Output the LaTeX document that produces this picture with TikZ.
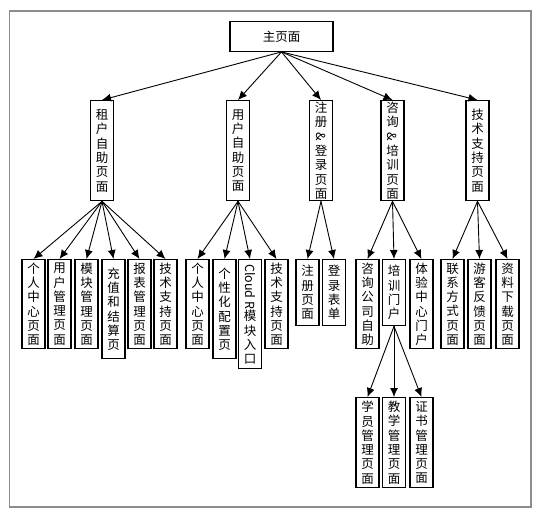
\documentclass[tikz,border=0pt]{standalone}
\usepackage{fontspec}
\setmainfont{Noto Sans CJK SC}
\usepackage{graphicx}
\usetikzlibrary{arrows.meta}
\colorlet{colMarco}{black!45}
\colorlet{colLinea}{black}
\tikzset{
  cajaBase/.style={
    draw=colLinea, line width=1.3pt, inner sep=0pt,
    align=center, font=\fontsize{12.5pt}{14.3pt}\selectfont,
    fill=white
  },
  cajaPrincipal/.style={cajaBase, minimum width=103pt, minimum height=29.5pt},
  cajaVertical/.style={cajaBase, anchor=north, minimum width=23pt},
  cajaSeccion/.style={cajaVertical, minimum height=100pt},
  flecha/.style={-{Latex[length=9pt,width=8pt]}, line width=0.9pt, colLinea},
}
\newcommand{\girado}[1]{\rotatebox[origin=c]{-90}{#1}}

\begin{document}
\begin{tikzpicture}[x=1pt, y=-1pt]
    \useasboundingbox (0,0) rectangle (543,517);
    \draw[colMarco, line width=1.2pt] (9.5,11) rectangle (531,507);
    % nivel 1
    \node[cajaPrincipal] (raiz) at (281.5,36.5) {主页面};
    % nivel 2
    \node[cajaSeccion] (zuhu) at (102,100) {租\\户\\自\\助\\页\\面};
    \node[cajaSeccion] (yonghu) at (238,100) {用\\户\\自\\助\\页\\面};
    \node[cajaSeccion] (zhuce) at (321,100) {注\\册\\\girado{\&}\\登\\录\\页\\面};
    \node[cajaSeccion] (zixun) at (392.5,100) {咨\\询\\\girado{\&}\\培\\训\\页\\面};
    \node[cajaSeccion] (jishu) at (477.5,100) {技\\术\\支\\持\\页\\面};
    % nivel 3
    \node[cajaVertical, minimum height=89pt] (a1) at (33.5,259) {个\\人\\中\\心\\页\\面};
    \node[cajaVertical, minimum height=89pt] (a2) at (59.5,259) {用\\户\\管\\理\\页\\面};
    \node[cajaVertical, minimum height=89pt] (a3) at (86.5,259) {模\\块\\管\\理\\页\\面};
    \node[cajaVertical, minimum height=99pt] (a4) at (113.5,259) {充\\值\\和\\结\\算\\页};
    \node[cajaVertical, minimum height=89pt] (a5) at (139.5,259) {报\\表\\管\\理\\页\\面};
    \node[cajaVertical, minimum height=89pt] (a6) at (165.5,259) {技\\术\\支\\持\\页\\面};
    \node[cajaVertical, minimum height=89pt] (b1) at (197.5,259) {个\\人\\中\\心\\页\\面};
    \node[cajaVertical, minimum height=99pt] (b2) at (224.5,259) {个\\性\\化\\配\\置\\页};
    \node[cajaVertical, minimum height=109pt] (b3) at (250,259) {\girado{Cloud R}\\模\\块\\入\\口};
    \node[cajaVertical, minimum height=89pt] (b4) at (276.5,259) {技\\术\\支\\持\\页\\面};
    \node[cajaVertical, minimum height=66pt] (c1) at (307.5,259) {注\\册\\页\\面};
    \node[cajaVertical, minimum height=66pt] (c2) at (334,259) {登\\录\\表\\单};
    \node[cajaVertical, minimum height=89pt] (d1) at (367.5,259) {咨\\询\\公\\司\\自\\助};
    \node[cajaVertical, minimum height=66pt] (d2) at (394,259) {培\\训\\门\\户};
    \node[cajaVertical, minimum height=89pt] (d3) at (421.5,259) {体\\验\\中\\心\\门\\户};
    \node[cajaVertical, minimum height=89pt] (e1) at (452.5,259) {联\\系\\方\\式\\页\\面};
    \node[cajaVertical, minimum height=89pt] (e2) at (479.5,259) {游\\客\\反\\馈\\页\\面};
    \node[cajaVertical, minimum height=89pt] (e3) at (507.5,259) {资\\料\\下\\载\\页\\面};
    % nivel 4
    \node[cajaVertical, minimum height=90pt] (f1) at (367.5,397) {学\\员\\管\\理\\页\\面};
    \node[cajaVertical, minimum height=90pt] (f2) at (394,397) {教\\学\\管\\理\\页\\面};
    \node[cajaVertical, minimum height=90pt] (f3) at (421.5,397) {证\\书\\管\\理\\页\\面};
    % flechas
    \foreach \hijo in {zuhu, yonghu, zhuce, zixun, jishu}
      \draw[flecha] (raiz.south) -- (\hijo.north);
    \foreach \hijo in {a1, a2, a3, a4, a5, a6}
      \draw[flecha] (zuhu.south) -- (\hijo.north);
    \foreach \hijo in {b1, b2, b3, b4}
      \draw[flecha] (yonghu.south) -- (\hijo.north);
    \foreach \hijo in {c1, c2}
      \draw[flecha] (zhuce.south) -- (\hijo.north);
    \foreach \hijo in {d1, d2, d3}
      \draw[flecha] (zixun.south) -- (\hijo.north);
    \foreach \hijo in {e1, e2, e3}
      \draw[flecha] (jishu.south) -- (\hijo.north);
    \foreach \hijo in {f1, f2, f3}
      \draw[flecha] (d2.south) -- (\hijo.north);
\end{tikzpicture}
\end{document}
